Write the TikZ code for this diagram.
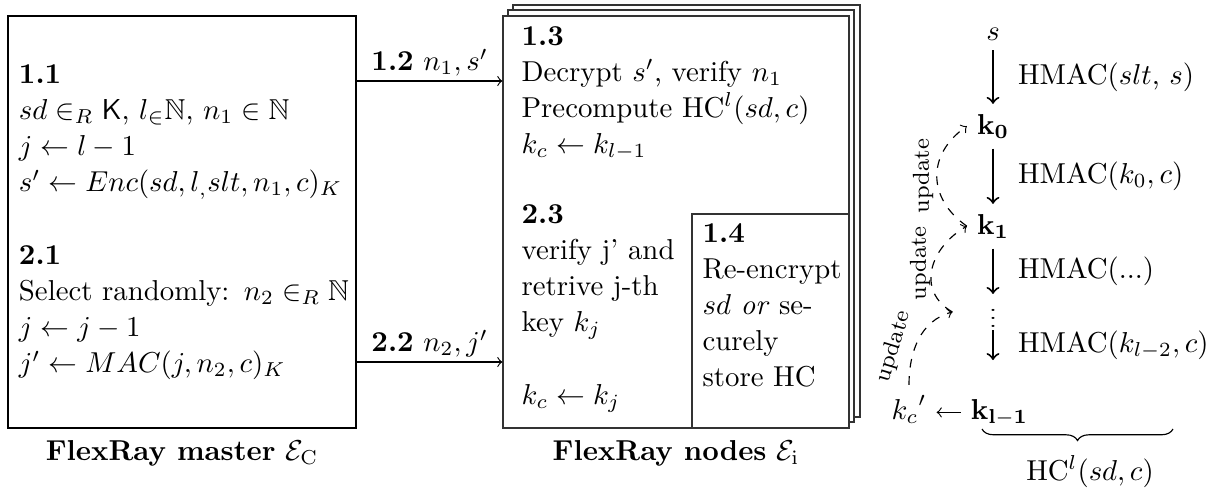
\documentclass[tikz,border=0pt]{standalone}
\usepackage{amssymb}
\usepackage{graphicx}
\usetikzlibrary{decorations.pathreplacing}
\begin{document}
\begin{tikzpicture}[x=0.3472pt, y=0.3472pt,
  txt/.style={font=\fontsize{10}{12.57}\selectfont},
  block/.style={txt, inner sep=0pt, anchor=base west, align=left, text width=#1},
  masterbox/.style={txt, draw, line width=0.7pt, align=left, text width=113.2pt,
    inner xsep=3.82pt, minimum width=120.84pt, minimum height=143.05pt},
  nodebox/.style={draw=black!80, line width=0.4pt, fill=white},
  msg/.style={->, line width=0.4pt},
  keyn/.style={txt, anchor=base},
  hop/.style={->, line width=0.7pt},
  hm/.style={txt, right=5pt, midway},
  upd/.style={->, dashed, line width=0.4pt},
  updl/.style={font=\footnotesize, sloped, above, pos=0.34},
  updv/.style={font=\footnotesize, rotate=90, anchor=south, inner sep=1pt, pos=#1},
]
\useasboundingbox (0,0) rectangle (1232,-489);

% ---------- FlexRay nodes: stacked boxes ----------
\draw[nodebox] (513,-5) rectangle (860,-417);
\draw[nodebox] (508,-10) rectangle (854,-422);
\node[nodebox, inner sep=0pt, minimum width=120.13pt, minimum height=143.05pt] (nodes) at (676,-222) {};
\node[nodebox, inner sep=0pt, minimum width=54.51pt, minimum height=74.3pt, anchor=south east] (hcbox) at (nodes.south east) {};

\node[block=110pt] (t13) at (521,-45) {\textbf{1.3}\\
  Decrypt $s'$, verify $n_1$\\
  Precompute HC$^l(sd,c)$\\
  $k_c \leftarrow k_{l-1}$};
\node[block=58pt] (t23) at (521,-223) {\textbf{2.3}\\
  verify j' and\\
  retrive j-th\\
  key $k_j$\\[12.57pt]
  $k_c \leftarrow k_j$};
\node[block=50pt] (t14) at (702,-242) {\textbf{1.4}\\
  Re-encrypt\\
  $sd$ \textit{or} se-\\
  curely\\
  store HC};
\node[txt, anchor=base] (nlabel) at (676,-460) {\textbf{FlexRay nodes} $\mathcal{E}_\mathrm{i}$};

% ---------- FlexRay master ----------
\node[masterbox] (master) at (182,-222) {\textbf{1.1}\\
  $sd \in_R \mathsf{K}$, $l_{\in}\mathbb{N}$, $n_1 \in \mathbb{N}$\\
  $j \leftarrow l-1$\\
  $s' \leftarrow Enc(sd,l_,slt,n_1,c)_K$\\[12.57pt]
  \textbf{2.1}\\
  \mbox{Select randomly: $n_2 \in_R \mathbb{N}$}\\
  $j \leftarrow j-1$\\
  $j' \leftarrow MAC(j,n_2,c)_K$};
\node[txt, anchor=base] (mlabel) at (182,-460) {\textbf{FlexRay master} $\mathcal{E}_\mathrm{C}$};

% ---------- messages ----------
\coordinate (r1) at (430,-81);
\coordinate (r2) at (430,-362);
\draw[msg] (master.east |- r1) -- node[txt, above, inner sep=1.5pt] {\textbf{1.2} $n_1, s'$} (nodes.west |- r1);
\draw[msg] (master.east |- r2) -- node[txt, above, inner sep=1.5pt] {\textbf{2.2} $n_2, j'$} (nodes.west |- r2);

% ---------- hash chain ----------
\node[keyn] (s) at (993,-40) {$s$};
\node[keyn] (k0) at (993,-134) {$\mathbf{k_0}$};
\node[keyn] (k1) at (993,-234) {$\mathbf{k_1}$};
\node[txt, inner sep=0pt, minimum width=27.78pt, minimum height=12.15pt] (vd) at (993,-312) {\scalebox{1}[0.7]{$\vdots$}};
\node[keyn] (kl) at (999.5,-419) {$\mathbf{k_{l-1}}$};
\node[keyn] (kc) at (909,-419) {${k_c}'$};
\coordinate (vend) at (993,-360);

\draw[hop] (s) -- node[hm] {HMAC($slt$, $s$)} (k0);
\draw[hop] (k0) -- node[hm] {HMAC($k_0, c$)} (k1);
\draw[hop] (k1) -- node[hm] {HMAC(...)} (vd);
\draw[hop] (vd) -- node[hm] {HMAC($k_{l-2}, c$)} (vend);
\draw[msg] (kl.west) -- (kl.west -| kc.east);

\draw[upd] (kc.north) to[out=90, in=195] node[updl] {update} (vd.west);
\draw[upd] (vd.west) to[out=150, in=210, looseness=1.25] node[updv=0.56] {update} (k1.west);
\draw[upd] (k1.west) to[out=145, in=215, looseness=1.25] node[updv=0.5] {update} (k0.west);

\coordinate (bl) at (982,-429);
\coordinate (br) at (1173,-429);
\draw[decorate, decoration={brace, mirror, amplitude=4pt}] (bl) -- (br);
\node[txt, anchor=base] (hcl) at (1090,-480) {HC$^l(sd,c)$};
\end{tikzpicture}
\end{document}
